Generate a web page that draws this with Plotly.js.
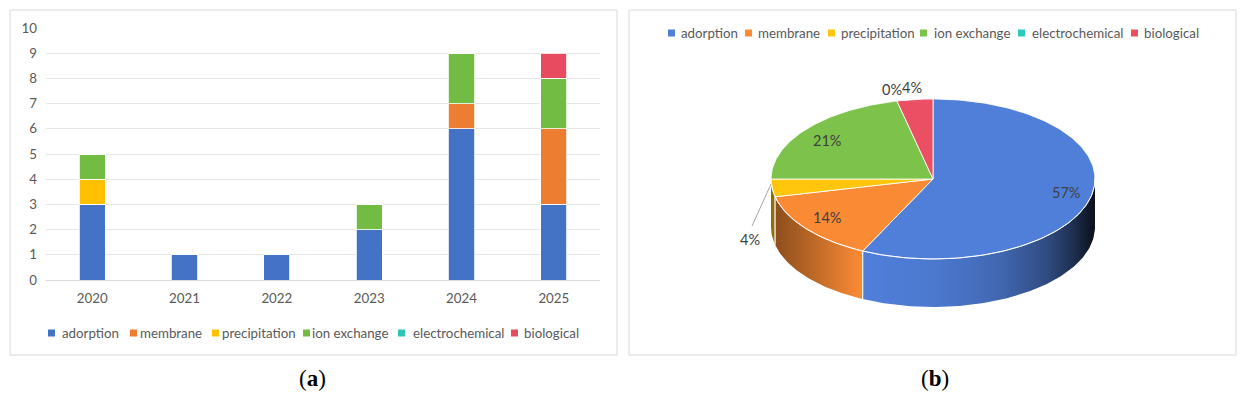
<!DOCTYPE html>
<html><head><meta charset="utf-8">
<script src="https://cdn.plot.ly/plotly-3.0.1.min.js"></script>
<style>html,body{margin:0;padding:0;background:#fff;} #chart{width:1246px;height:398px;}</style>
</head><body><div id="chart"></div>
<script>
// ---------- data ----------
const years = ['2020','2021','2022','2023','2024','2025'];
const methods = ['adorption','membrane','precipitation','ion exchange','electrochemical','biological'];
const adsorption      = [3,1,1,2,6,3];
const membrane        = [0,0,0,0,1,3];
const precipitation   = [1,0,0,0,0,0];
const ionExchange     = [1,0,0,1,2,2];
const electrochemical = [0,0,0,0,0,0];
const biological      = [0,0,0,0,0,1];
const yTickVals = [0,1,2,3,4,5,6,7,8,9,10];
const captions = ['(<b>a</b>)','(<b>b</b>)'];

// ---------- styles ----------
const barColors = ['#4472C4','#ED7D31','#FFC000','#72BC44','#2EC4B6','#E84A5F'];
const pieColors = ['#507FDA','#FA8A34','#FFC60D','#7CC24B','#2EC9B8','#EA4F63'];
const FONT = 'Lato, "Open Sans", sans-serif';
const TXT = '#595959';

const series = [adsorption, membrane, precipitation, ionExchange, electrochemical, biological];
const totals = series.map(s => s.reduce((a,b)=>a+b,0));
const grand = totals.reduce((a,b)=>a+b,0);

const traces = [];
// ---------- stacked bars ----------
series.forEach((s,i)=>{
  traces.push({type:'bar', x:years, y:s, name:methods[i], showlegend:false,
    marker:{color:barColors[i], line:{color:'#ffffff', width:0.8}},
    hoverinfo:'x+y+name', xaxis:'x', yaxis:'y'});
});

// ---------- 3D pie (pixel space axes x2/y2) ----------
const CX=933, CY=179, RX=162, RY=80, DEPTH=48;
const rad = d => d*Math.PI/180;
const px = t => CX + RX*Math.sin(rad(t));
const py = t => CY - RY*Math.cos(rad(t));
function hex2rgb(h){return [parseInt(h.slice(1,3),16),parseInt(h.slice(3,5),16),parseInt(h.slice(5,7),16)];}
function shade(h,f){const c=hex2rgb(h).map(v=>Math.max(0,Math.min(255,Math.round(v*f))));return 'rgb('+c.join(',')+')';}
const lu=[-1,-0.8,-0.45,0,0.4,0.7,0.88,1], lf=[0.55,0.7,1.0,0.95,0.82,0.6,0.35,0.12];
function light(x){const u=(x-CX)/RX; for(let k=0;k<lu.length-1;k++){ if(u<=lu[k+1]){const t=(u-lu[k])/(lu[k+1]-lu[k]);return lf[k]+t*(lf[k+1]-lf[k]);}} return lf[lf.length-1];}

const angles=[]; let acc=0;
totals.forEach(v=>{const a0=acc/grand*360; acc+=v; angles.push([a0, acc/grand*360]);});

function arc(a0,a1,dy){const pts=[];const n=Math.max(2,Math.ceil(Math.abs(a1-a0)));for(let k=0;k<=n;k++){const t=a0+(a1-a0)*k/n;pts.push([px(t),py(t)+(dy||0)]);}return pts;}

// side walls (front half only: 90..270)
const sideTraces=[], boundaryLines=[];
totals.forEach((v,i)=>{
  if(v<=0) return;
  const s=Math.max(angles[i][0],90), e=Math.min(angles[i][1],270);
  if(e<=s) return;
  const top=arc(s,e,0), bot=arc(e,s,DEPTH);
  const pts=top.concat(bot); pts.push(top[0]);
  const xs=Math.min(px(s),px(e)), xe=Math.max(px(s),px(e));
  const cs=[]; for(let k=0;k<=10;k++){const x=xs+(xe-xs)*k/10; cs.push([k/10, shade(pieColors[i], light(x))]);}
  sideTraces.push({type:'scatter', mode:'lines', x:pts.map(p=>p[0]), y:pts.map(p=>p[1]), xaxis:'x2', yaxis:'y2',
    fill:'toself', fillcolor:pieColors[i], fillgradient:{type:'horizontal', colorscale:cs, start:xs, stop:xe},
    line:{width:0}, hoverinfo:'skip', showlegend:false});
  [s,e].forEach(t=>{ if(t>90 && t<270){ boundaryLines.push({type:'scatter',mode:'lines',x:[px(t),px(t)],y:[py(t),py(t)+DEPTH],xaxis:'x2',yaxis:'y2',line:{color:'rgba(255,255,255,0.75)',width:1},hoverinfo:'skip',showlegend:false}); }});
});
traces.push(...sideTraces, ...boundaryLines);

// top faces
totals.forEach((v,i)=>{
  if(v<=0) return;
  const pts=[[CX,CY]].concat(arc(angles[i][0],angles[i][1],0)); pts.push([CX,CY]);
  traces.push({type:'scatter', mode:'lines', x:pts.map(p=>p[0]), y:pts.map(p=>p[1]), xaxis:'x2', yaxis:'y2',
    fill:'toself', fillcolor:pieColors[i], line:{color:'rgba(255,255,255,0.85)', width:1},
    name:methods[i], hoverinfo:'name', showlegend:false});
});
// rim highlight
const rim=arc(90,270,0);
traces.push({type:'scatter',mode:'lines',x:rim.map(p=>p[0]),y:rim.map(p=>p[1]),xaxis:'x2',yaxis:'y2',line:{color:'rgba(255,255,255,0.8)',width:1},hoverinfo:'skip',showlegend:false});

// ---------- annotations & shapes ----------
const annotations=[], shapes=[];
// panel boxes
[[10,617],[629,1236]].forEach(b=>shapes.push({type:'rect',xref:'x2',yref:'y2',x0:b[0],x1:b[1],y0:10,y1:355,line:{color:'#D9D9D9',width:1},layer:'below'}));

// pie labels
totals.forEach((v,i)=>{
  const pct=Math.round(v/grand*100)+'%';
  const mid=(angles[i][0]+angles[i][1])/2;
  const share=v/grand;
  let x,y;
  if(share>=0.08){ x=CX+RX*0.84*Math.sin(rad(mid)); y=CY-RY*0.78*Math.cos(rad(mid)); }
  else if(Math.cos(rad(mid))>0){ x=CX+RX*1.15*Math.sin(rad(mid)); y=CY-RY*1.15*Math.cos(rad(mid)); }
  else {
    const rx0=px(mid), ry0=py(mid);
    traces.push({type:'scatter',mode:'lines',x:[rx0-1,rx0-20],y:[ry0-4,ry0+38],xaxis:'x2',yaxis:'y2',line:{color:'#A6A6A6',width:1},hoverinfo:'skip',showlegend:false});
    x=rx0-22; y=ry0+52;
  }
  annotations.push({xref:'x2',yref:'y2',x:x,y:y,text:pct,showarrow:false,font:{family:FONT,size:14.5,color:'#404040'},xanchor:'center',yanchor:'middle'});
});

// legends (bar panel and pie panel)
const legBar = {sq:[48,130,212,303,398,511], tx:[61,139,221,311,412,523], y:333};
const legPie = {sq:[668,745,828,920,1018,1131], tx:[680,757,840,933,1031,1143], y:33};
[[legBar,barColors],[legPie,pieColors]].forEach(([L,cols])=>{
  methods.forEach((m,i)=>{
    shapes.push({type:'rect',xref:'x2',yref:'y2',x0:L.sq[i],x1:L.sq[i]+7,y0:L.y-3.5,y1:L.y+3.5,fillcolor:cols[i],line:{width:0}});
    annotations.push({xref:'x2',yref:'y2',x:L.tx[i],y:L.y,text:m,showarrow:false,xanchor:'left',yanchor:'middle',
      font:{family:FONT,size:13.3,color:TXT},borderpad:0});
  });
});
// captions
[[312,captions[0]],[935,captions[1]]].forEach(([x,t])=>annotations.push({xref:'x2',yref:'y2',x:x,y:378,text:t,showarrow:false,
  font:{family:'"Liberation Serif", "DejaVu Serif", serif',size:23,color:'#000'},xanchor:'center',yanchor:'middle'}));

const H=398, W=1246;
const layout={
  width:W, height:H, margin:{l:0,r:0,t:0,b:0}, paper_bgcolor:'#fff', plot_bgcolor:'rgba(0,0,0,0)',
  barmode:'stack', bargap:0.718, showlegend:false,
  xaxis:{domain:[46/W,600/W], type:'category', range:[-0.5,5.5], showgrid:false, showline:true, linecolor:'#D9D9D9', linewidth:1,
    ticks:'', tickfont:{family:FONT,size:13.3,color:TXT}, ticklabelstandoff:6, fixedrange:true, anchor:'y'},
  yaxis:{domain:[(H-280)/H,(H-28)/H], range:[0,10], tickvals:yTickVals, showgrid:true, gridcolor:'#E6E6E6', gridwidth:1,
    zeroline:false, showline:false, ticks:'', tickfont:{family:FONT,size:13.3,color:TXT}, ticklabelstandoff:8, fixedrange:true, anchor:'x'},
  xaxis2:{domain:[0,1], range:[0,W], visible:false, fixedrange:true, anchor:'y2'},
  yaxis2:{domain:[0,1], range:[H,0], visible:false, fixedrange:true, anchor:'x2'},
  annotations:annotations, shapes:shapes
};
Plotly.newPlot('chart', traces, layout, {displayModeBar:false, staticPlot:true});
</script></body></html>
